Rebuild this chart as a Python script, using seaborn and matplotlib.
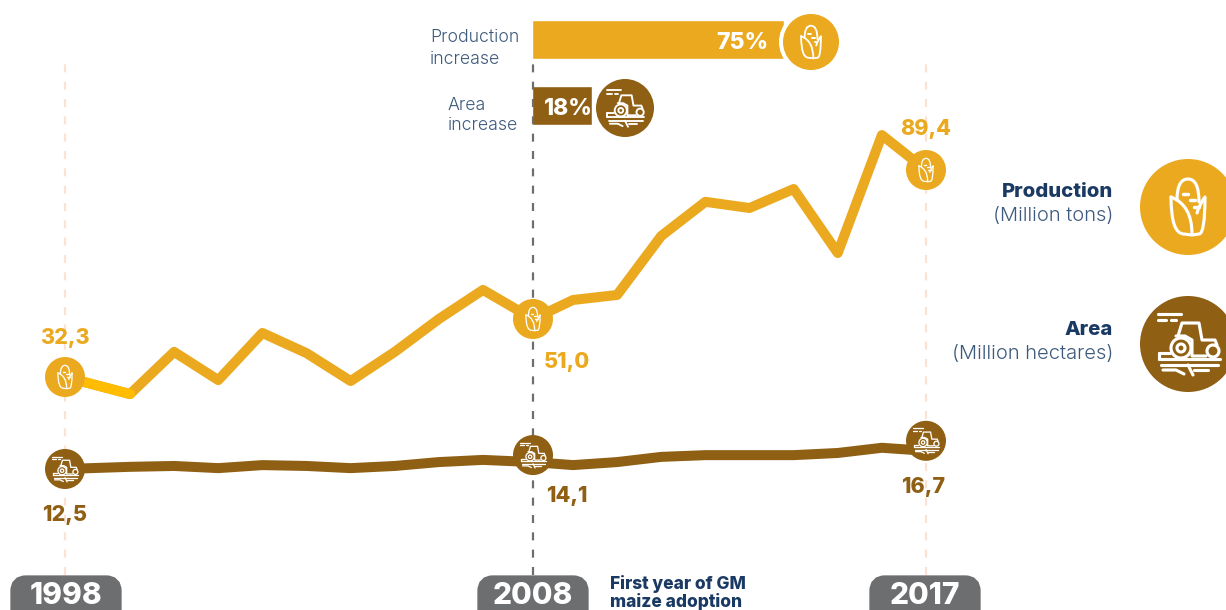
import numpy as np
import pandas as pd
import matplotlib
matplotlib.use("Agg")
import matplotlib.pyplot as plt
from matplotlib.patches import Circle, FancyBboxPatch, PathPatch
from matplotlib.path import Path
import seaborn as sns

# ---------- data ----------
years = list(range(1998, 2018))
production = [32.3, 26.8, 40.4, 31.3, 46.5, 40.0, 31.0, 40.4, 51.0, 58.5,
              51.0, 55.9, 57.2, 72.4, 81.2, 79.6, 84.5, 68.0, 98.4, 89.4]
area = [12.5, 13.0, 13.2, 12.7, 13.4, 13.2, 12.7, 13.2, 14.1, 14.6,
        14.1, 13.4, 14.1, 15.3, 15.7, 15.7, 15.7, 16.2, 17.4, 16.7]
increase_names = ["Production increase", "Area increase"]
increase_values = [75, 18]
increase_labels = ["75%", "18%"]
milestone_years = [1998, 2008, 2017]
production_labels = ["32,3", "51,0", "89,4"]
area_labels = ["12,5", "14,1", "16,7"]

W, H = 1226, 610
ORANGE, BROWN, YELLOW = "#EBA91F", "#8F5F14", "#FFBC00"
NAVY, SLATE, GREY, PEACH = "#1B3A63", "#3D5A7C", "#6D6E70", "#FBE3D3"
FONT = ["Inter", "DejaVu Sans"]

sns.set_theme(style="white")
plt.rcParams["font.family"] = FONT
fig = plt.figure(figsize=(W / 100, H / 100), dpi=100, facecolor="white")

df = pd.DataFrame({"year": years, "production": production, "area": area})


def piecewise(ax_set, xk, pk, limits):
    xk, pk = np.array(xk, float), np.array(pk, float)
    def fwd(v):
        return np.interp(v, xk, pk)
    def inv(v):
        return np.interp(v, pk, xk)
    ax_set[0]("function", functions=(fwd, inv))
    ax_set[1](limits[0], limits[1])


# ---------- bars ----------
bar_ax = fig.add_axes([531.5 / W, 1 - 139 / H, 337 / W, 133 / H])
sns.barplot(x=increase_values, y=increase_names, hue=increase_names,
            palette=[ORANGE, BROWN], width=0.58, legend=False, ax=bar_ax,
            saturation=1)
bar_ax.set_xlim(0, 100)
bar_ax.set_ylim(1.5, -0.5)
bar_ax.set_axis_off()

# ---------- lines ----------
year_knots = [1900, 1998, 1999, 2007, 2008, 2009, 2017, 2100]
px_knots = [65 - 98 * 65, 65, 130, 483, 533, 573, 926, 926 + 83 * 44.2]
# pixel rows measured downward, so axis position = H - row
prod_knots = [-100, 32.3, 51.0, 89.4, 300]
prod_rows = [377 + 132.3 * 3.1, 377, 319, 170, 170 - 210.6 * 3.88]

ax = fig.add_axes([0, 0, 1, 1], facecolor="none")
ax2 = fig.add_axes([0, 0, 1, 1], facecolor="none")

for year in milestone_years:
    ax.axvline(year, ymin=1 - 575 / H, ymax=1 - 60 / H,
               color=GREY if year == 2008 else PEACH,
               lw=1.6, dashes=(3.6, 4.2), zorder=0)

line_kw = dict(lw=7.2, solid_capstyle="round", solid_joinstyle="round",
               sort=False, estimator=None)
sns.lineplot(data=df, x="year", y="production", color=ORANGE, ax=ax, **line_kw)
sns.lineplot(data=df.iloc[:2], x="year", y="production", color=YELLOW, ax=ax, **line_kw)
sns.lineplot(data=df, x="year", y="area", color=BROWN, ax=ax2, **line_kw)

for a in (ax, ax2):
    piecewise((a.set_xscale, a.set_xlim), year_knots, px_knots, (1998 - 65 / 65, 2017 + 300 / 44.2))
    a.set_axis_off()
piecewise((ax.set_yscale, ax.set_ylim), prod_knots, [H - r for r in prod_rows],
          (32.3 - (H - 377) / 3.1, 89.4 + 170 / 3.88))
# area axis: 4.33 px per million hectares, 12.5 on row 469
ax2.set_ylim(12.5 - (H - 469) / 4.33, 12.5 + 469 / 4.33)

# ---------- overlay in pixel space ----------
ov = fig.add_axes([0, 0, 1, 1], facecolor="none")
ov.set_xlim(0, W)
ov.set_ylim(H, 0)
ov.set_axis_off()


def to_px(axis, x, y):
    p = axis.transData.transform((x, y))
    return p[0], H - p[1]


def stroke(verts, codes, cx, cy, s, lw):
    v = np.array(verts, float) * s + [cx, cy]
    ov.add_patch(PathPatch(Path(v, codes), fc="none", ec="white", lw=lw,
                           capstyle="round", joinstyle="round", zorder=6))


def polyline(pts, cx, cy, s, lw):
    stroke(pts, [Path.MOVETO] + [Path.LINETO] * (len(pts) - 1), cx, cy, s, lw)


def corn(cx, cy, r):
    s = r / 48
    lw = max(0.8, 2.6 * s * 0.72 * 1.2)
    C, L, M = Path.CURVE3, Path.LINETO, Path.MOVETO
    stroke([(-11, -7), (-11, -28), (0, -28), (11, -28), (11, -5)], [M, C, C, C, C], cx, cy, s, lw)
    stroke([(-17, -10), (-17, 27), (-4, 27), (4, 28), (11, 27), (17, 27), (17, -10), (11, -2), (9, 6)],
           [M, C, C, L, L, C, C, C, C], cx, cy, s, lw)
    stroke([(-17, -10), (4, -2), (4, 27)], [M, C, C], cx, cy, s, lw)
    for fx, fy in [(-3, -13), (4, -7), (8, 0)]:
        polyline([(fx - 2, fy), (fx + 3, fy)], cx, cy, s, lw * 1.1)


def tractor(cx, cy, r):
    s = r / 48
    lw = max(0.8, 2.6 * s * 0.72 * 1.2)
    for pts in [[(-30, -30), (-7, -30)], [(-30, -24), (-22, -24)], [(-17, -24), (-12, -24)],
                [(-10, -8), (-6, -21), (11, -21), (14, -4), (27, -4), (29, 1)],
                [(-12, -8), (-3, -8), (4, -4), (4, 12), (18, 12)],
                [(-29, 15), (32, 15)], [(-27, 21), (30, 21)],
                [(-29, 9), (-18, 9)], [(-29, 9), (-29, 15)],
                [(-25, 26), (-12, 26), (-4, 30)], [(0, 21), (5, 31)], [(6, 26), (20, 26)]]:
        polyline(pts, cx, cy, s, lw)
    for wx, wy, wr in [(-7, 4, 10), (-7, 4, 4), (25, 7, 6)]:
        ov.add_patch(Circle((cx + wx * s, cy + wy * s), wr * s, facecolor="none",
                            edgecolor="white", lw=lw, zorder=6))


def badge(cx, cy, r, color, icon, ring=0):
    if ring:
        ov.add_patch(Circle((cx, cy), r + ring, fc="white", ec="none", zorder=4))
    ov.add_patch(Circle((cx, cy), r, fc=color, ec="none", zorder=5))
    icon(cx, cy, r)


for y_year in milestone_years:
    row = df[df.year == y_year].iloc[0]
    x, y = to_px(ax, y_year, row.production)
    badge(x, y, 20, ORANGE, corn)
    x2, y2 = to_px(ax2, y_year, row.area)
    lift = {1998: 0, 2008: 7, 2017: 10}[y_year]
    badge(x2, y2 - lift, 20, BROWN, tractor)

badge(811, 42, 28, ORANGE, corn, ring=4)
badge(625, 108, 29, BROWN, tractor, ring=4)
badge(1188, 207, 48, ORANGE, corn)
badge(1188, 344, 48, BROWN, tractor)

# ---------- text ----------
def label(x, y, s, color, size, weight=800, ha="center"):
    ov.text(x, y + 2, s, color=color, fontsize=size, fontweight=weight, ha=ha,
            va="center", zorder=8, linespacing=1.1)


for (x, y), s in zip([(65, 336), (567, 360), (926, 127)], production_labels):
    label(x, y, s, ORANGE, 15.5)
for (x, y), s in zip([(65, 513), (567, 494), (923, 485)], area_labels):
    label(x, y, s, BROWN, 15.5)

label(768, 41, increase_labels[0], "white", 16.5, ha="right")
label(593, 107, increase_labels[1], "white", 16.5, ha="right")

label(430, 36, "Production", SLATE, 12.7, 300, "left")
label(430, 57, "increase", SLATE, 12.7, 300, "left")
label(448, 103, "Area", SLATE, 12.7, 300, "left")
label(448, 123, "increase", SLATE, 12.7, 300, "left")

label(1113, 190, "Production", NAVY, 14.6, 800, "right")
label(1113, 214, "(Million tons)", SLATE, 14.5, 300, "right")
label(1113, 328, "Area", NAVY, 14.6, 800, "right")
label(1113, 352, "(Million hectares)", SLATE, 14.5, 300, "right")

label(610, 582, "First year of GM", NAVY, 12.5, 800, "left")
label(610, 600, "maize adoption", NAVY, 12.5, 800, "left")

for x0, yr in zip([10, 477, 869], milestone_years):
    ov.add_patch(FancyBboxPatch((x0 + 8, 583), 96, 40, boxstyle="round,pad=0,rounding_size=8",
                                mutation_aspect=1, fc=GREY, ec=GREY, lw=11, zorder=7, clip_on=True))
    label(x0 + 56, 594, str(yr), "white", 21.5)

fig.savefig("out.png", dpi=100)
